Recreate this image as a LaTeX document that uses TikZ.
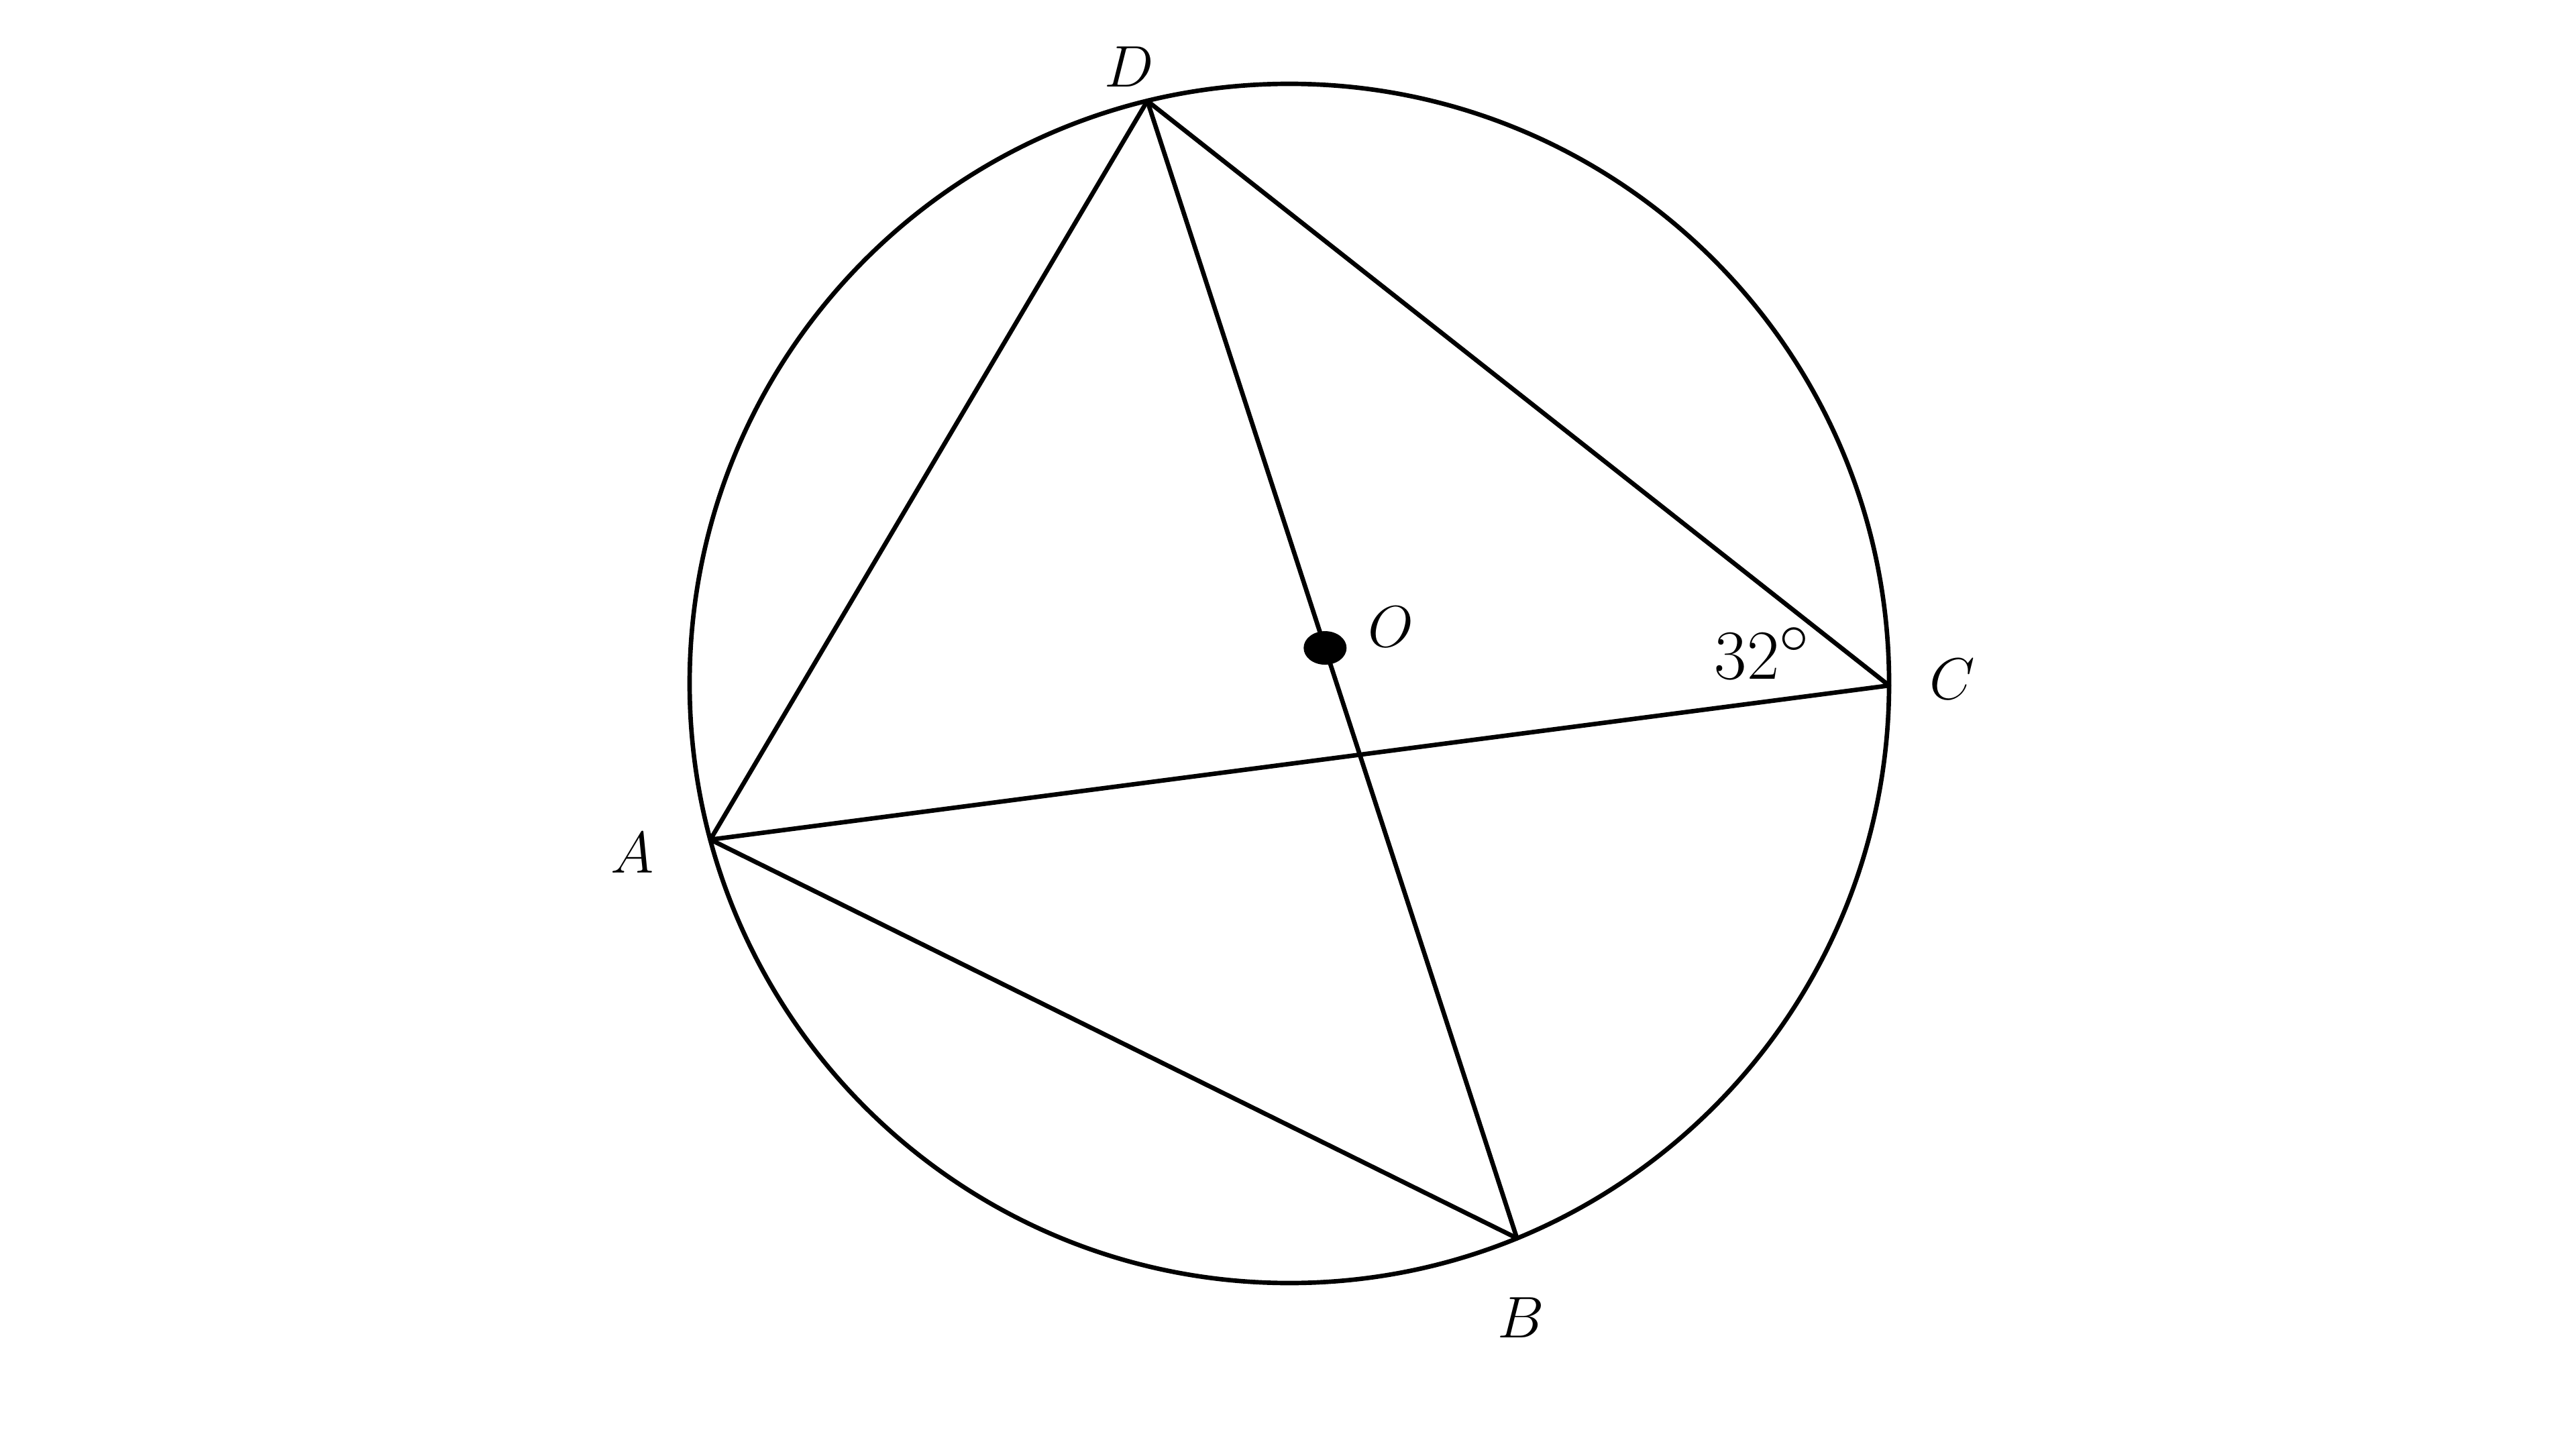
\documentclass[tikz,border=0pt]{standalone}
\usetikzlibrary{calc}
\begin{document}
\begin{tikzpicture}[line join = round, line cap = round,line width=1.9pt,font=\fontsize{24.88}{30}\selectfont]
			\def\R{8.94} %bán kính
			\useasboundingbox (0,0) rectangle (38.4,21.52);
			\coordinate (Z) at (19.22,11.33); % tâm đường tròn
			\draw (Z) circle(\R);
			\path (Z) ++(103.7:\R) coordinate (D);
			\path (Z) ++(195.1:\R) coordinate (A);
			\path (Z) ++(-67.7:\R) coordinate (B);
			\path (Z) ++(-0.2:\R) coordinate (C);
			\path (D) -- (B) coordinate[pos=0.481] (O);
			\draw (A)--(D)--(C)--cycle;
			\draw (A)--(B);
			\draw (D)--(B);
			\fill (O) ellipse(0.32 and 0.25);
			\node (lD) at (16.83,20.52) {$D$};
			\node (lO) at (20.73,12.17) {$O$};
			\node (lA) at (9.43,8.8) {$A$};
			\node (lB) at (22.67,1.87) {$B$};
			\node (lC) at (29.1,11.39) {$C$};
			\node (ang) at (26.27,11.78) [scale=1.2]{$32^\circ$};
		\end{tikzpicture}
\end{document}
